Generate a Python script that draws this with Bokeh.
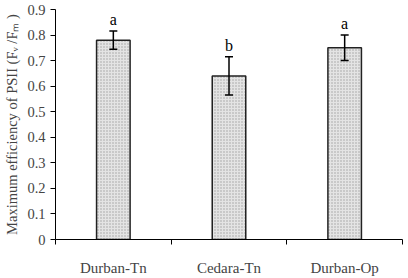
from bokeh.plotting import figure
from bokeh.models import ColumnDataSource, FixedTicker, Whisker, TeeHead, Range1d
from bokeh.embed import file_html
from bokeh.resources import INLINE
from bokeh.core.properties import value

categories = ["Durban-Tn", "Cedara-Tn", "Durban-Op"]
means = [0.78, 0.64, 0.75]
errors = [0.036, 0.075, 0.05]
letters = ["a", "b", "a"]
y_ticks = [0, 0.1, 0.2, 0.3, 0.4, 0.5, 0.6, 0.7, 0.8, 0.9]

xs = [i + 0.5 for i in range(len(categories))]
src = ColumnDataSource(dict(
    x=xs, top=means,
    upper=[m + e for m, e in zip(means, errors)],
    lower=[m - e for m, e in zip(means, errors)],
    letter=letters,
))

FONT = "Liberation Serif"
p = figure(width=408, height=278, output_backend="svg", toolbar_location=None,
           x_range=Range1d(0, 3), y_range=Range1d(0, 0.9),
           min_border_left=55, min_border_right=6, min_border_top=9, min_border_bottom=39)
p.outline_line_color = None
p.xgrid.visible = False
p.ygrid.visible = False
p.background_fill_color = "white"
p.border_fill_color = "white"

p.vbar(x="x", top="top", width=0.29, bottom=0, source=src,
       fill_color="#e4e4e4", line_color="#222222", line_width=1.5,
       hatch_pattern="dot", hatch_color="#a0a0a0", hatch_scale=3, hatch_weight=1)

w = Whisker(base="x", upper="upper", lower="lower", source=src,
            line_color="black", line_width=1.5, level="overlay",
            upper_head=TeeHead(size=8, line_width=1.5, line_color="black"),
            lower_head=TeeHead(size=8, line_width=1.5, line_color="black"))
p.add_layout(w)

p.text(x="x", y="upper", text="letter", source=src, text_align="center",
       text_baseline="bottom", y_offset=-3, text_font=value(FONT),
       text_font_size="16px", text_color="black")

# x axis
p.xaxis.ticker = FixedTicker(ticks=xs, minor_ticks=[0, 1, 2, 3])
p.xaxis.major_label_overrides = {x: c for x, c in zip(xs, categories)}
p.xaxis.major_tick_out = 0
p.xaxis.major_tick_in = 0
p.xaxis.minor_tick_out = 5
p.xaxis.minor_tick_in = 0
p.xaxis.major_label_standoff = 15
p.xaxis.major_label_text_font = FONT
p.xaxis.major_label_text_font_size = "15px"
p.xaxis.axis_line_color = "black"
p.xaxis.minor_tick_line_color = "black"

# y axis
p.yaxis.ticker = FixedTicker(ticks=y_ticks, minor_ticks=[])
p.yaxis.major_label_overrides = {t: ("0" if t == 0 else f"{t:.1f}") for t in y_ticks}
p.yaxis.major_tick_out = 5
p.yaxis.major_tick_in = 0
p.yaxis.minor_tick_out = 0
p.yaxis.major_label_standoff = 5
p.yaxis.major_label_text_font = FONT
p.yaxis.major_label_text_font_size = "14.5px"
p.yaxis.axis_line_color = "black"
p.yaxis.major_tick_line_color = "black"
p.yaxis.axis_label = "Maximum efficiency of PSII (Fᵥ /Fₘ )"
p.yaxis.axis_label_text_font = FONT
p.yaxis.axis_label_text_font_style = "normal"
p.yaxis.axis_label_text_font_size = "14.5px"
p.yaxis.axis_label_standoff = 4

open("out.html", "w").write(file_html(p, INLINE))
